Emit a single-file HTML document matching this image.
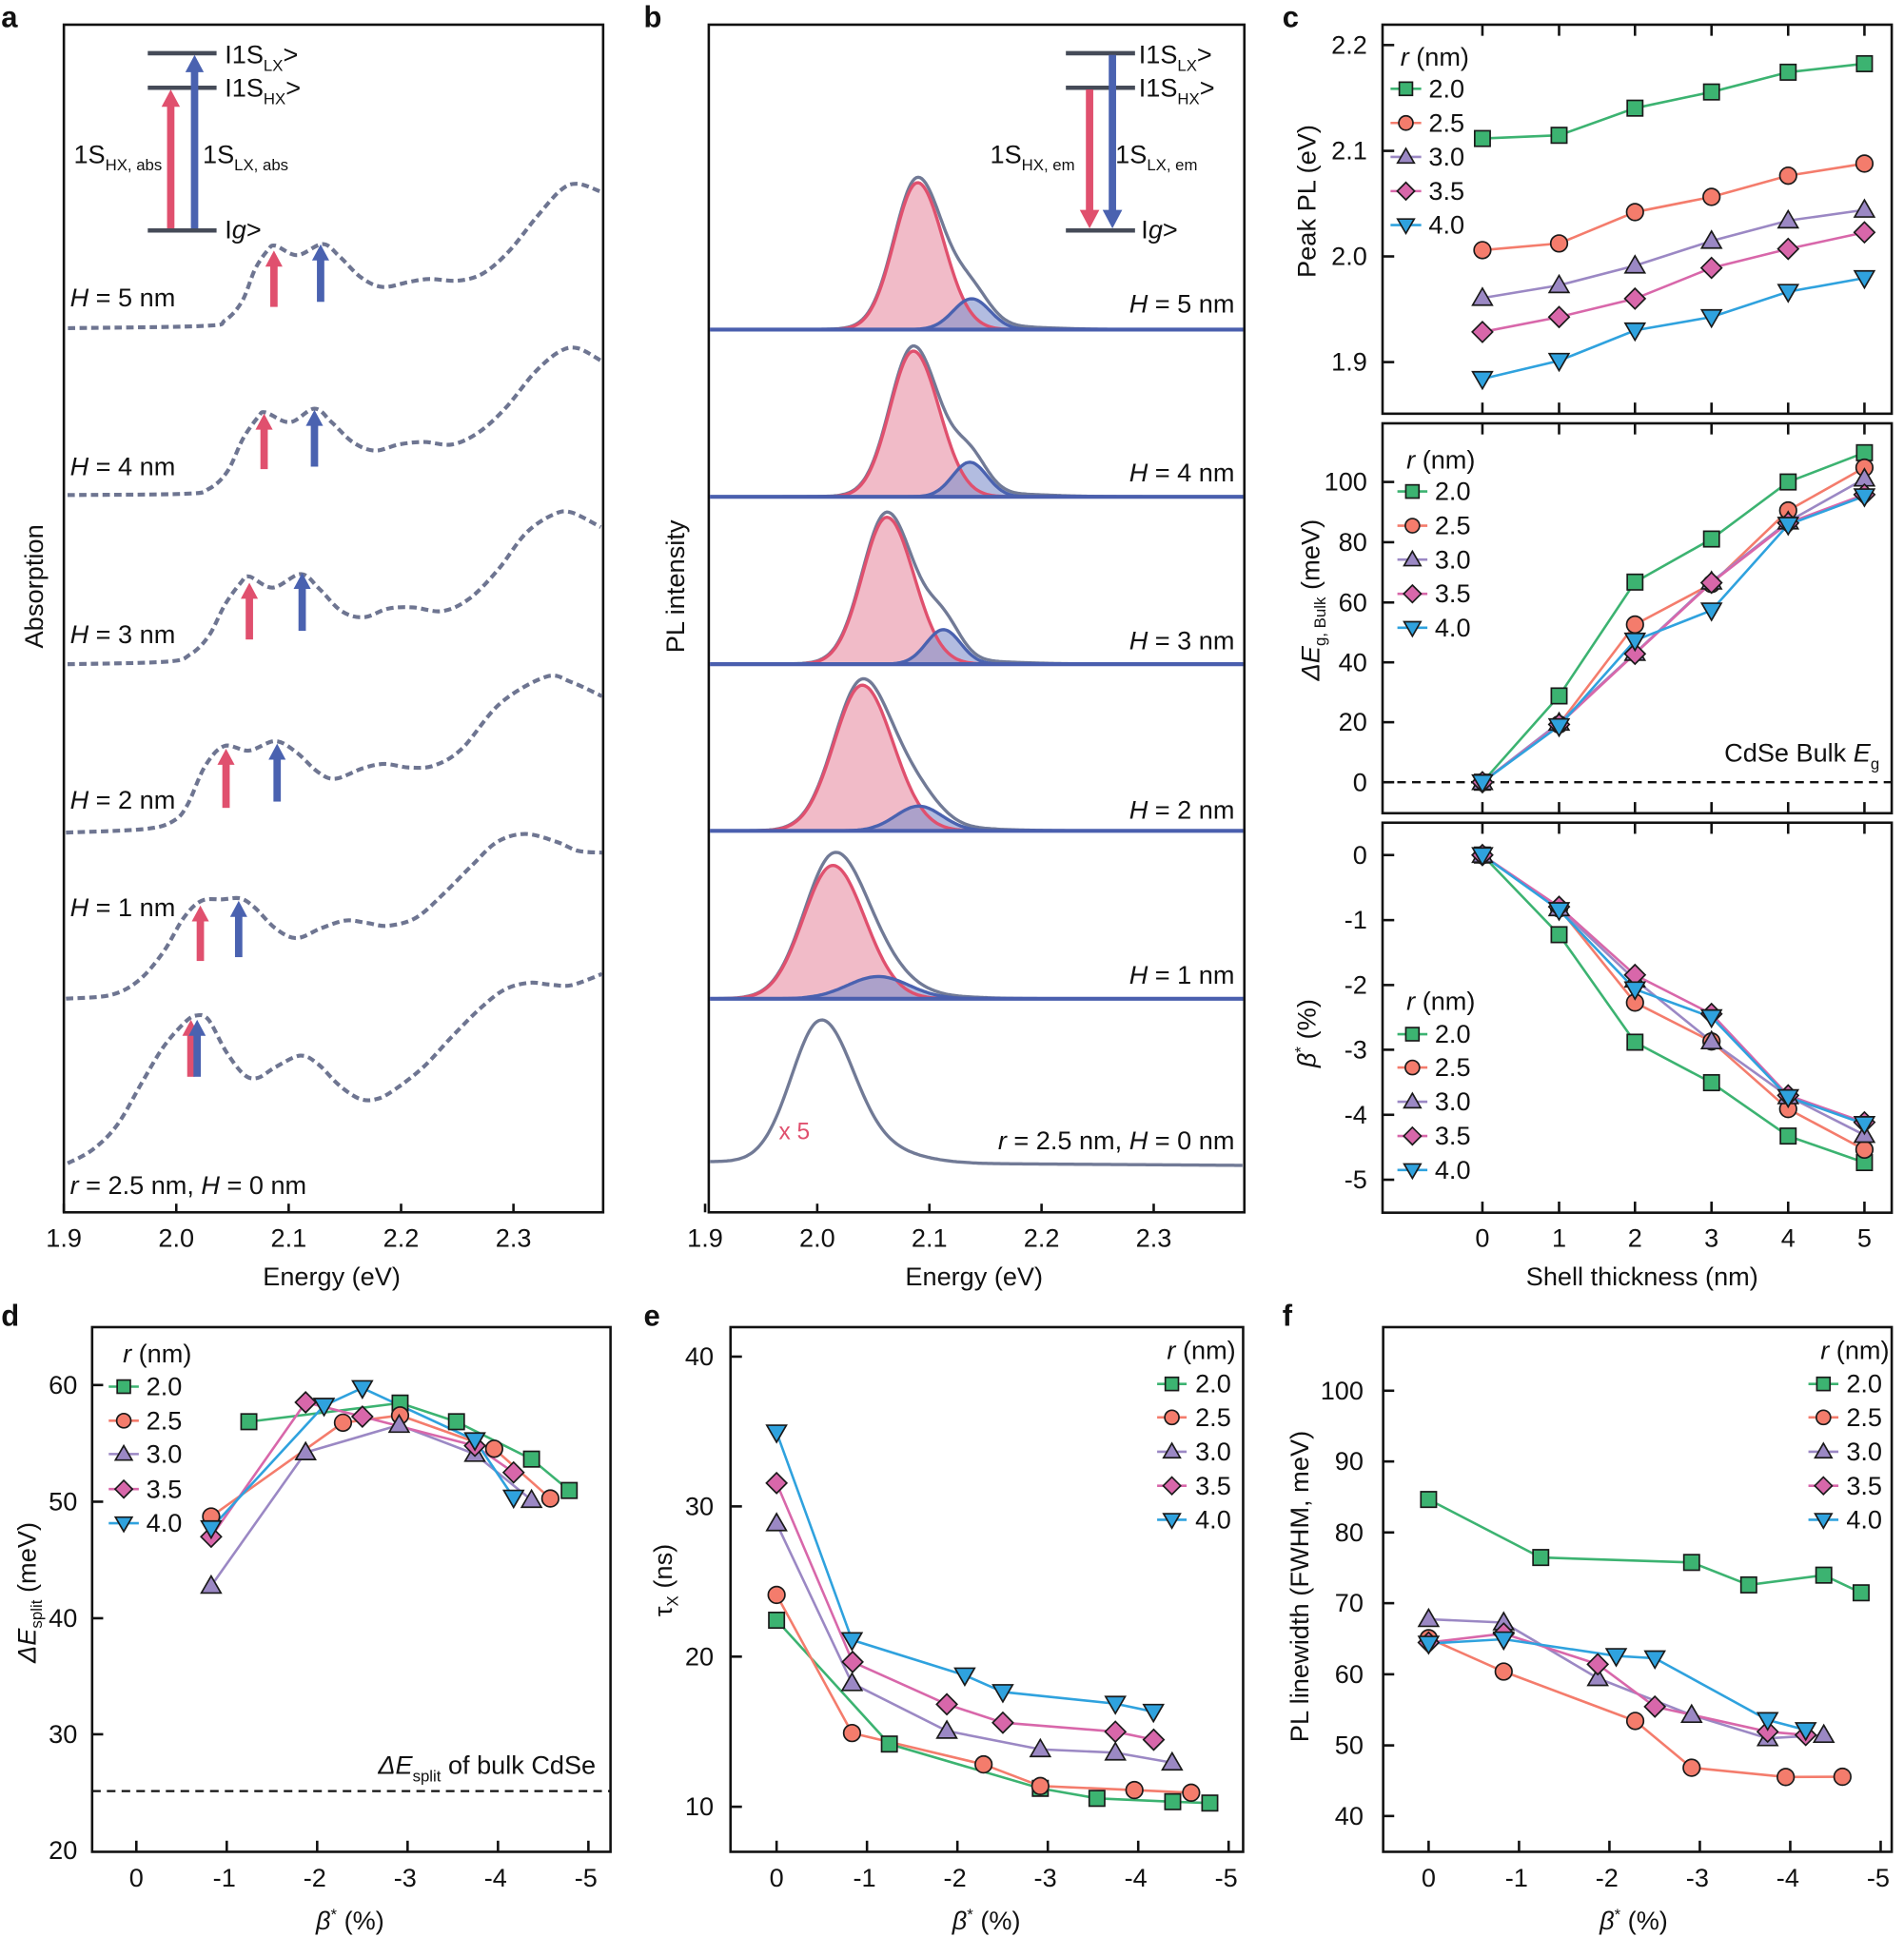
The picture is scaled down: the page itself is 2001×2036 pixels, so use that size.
<!DOCTYPE html>
<html><head><meta charset="utf-8"><style>
html,body{margin:0;padding:0;background:#fff;}
svg{display:block;}
text{font-family:"Liberation Sans",Arial,sans-serif;fill:#111;}
</style></head><body>
<svg id="s" xmlns="http://www.w3.org/2000/svg" viewBox="0 0 1550 1569" width="2001" height="2036" preserveAspectRatio="none">
<rect x="0" y="0" width="1550" height="1569" fill="#fff"/>
<g id="dyn"></g>
<g font-size="21">
<text x="1" y="22" font-size="24" font-weight="bold">a</text>
<text x="524" y="22" font-size="24" font-weight="bold">b</text>
<text x="1044" y="22" font-size="24" font-weight="bold">c</text>
<text x="1" y="1074" font-size="24" font-weight="bold">d</text>
<text x="524" y="1074" font-size="24" font-weight="bold">e</text>
<text x="1044" y="1074" font-size="24" font-weight="bold">f</text>

<g text-anchor="middle">
<text x="52" y="1010">1.9</text><text x="143.5" y="1010">2.0</text><text x="235" y="1010">2.1</text><text x="326.5" y="1010">2.2</text><text x="418" y="1010">2.3</text>
<text x="270" y="1041">Energy (eV)</text>
<text transform="translate(35,475) rotate(-90)">Absorption</text>
<text x="574" y="1010">1.9</text><text x="665.3" y="1010">2.0</text><text x="756.6" y="1010">2.1</text><text x="847.9" y="1010">2.2</text><text x="939.2" y="1010">2.3</text>
<text x="793" y="1041">Energy (eV)</text>
<text transform="translate(557,475) rotate(-90)">PL intensity</text>
</g>
<text x="183" y="51.4">I1S<tspan font-size="13" dy="6">LX</tspan><tspan dy="-6">&gt;</tspan></text>
<text x="183" y="78.3">I1S<tspan font-size="13" dy="6">HX</tspan><tspan dy="-6">&gt;</tspan></text>
<text x="183" y="193">I<tspan font-style="italic">g</tspan>&gt;</text>
<text x="60" y="132">1S<tspan font-size="13" dy="6">HX, abs</tspan></text>
<text x="165" y="132">1S<tspan font-size="13" dy="6">LX, abs</tspan></text>
<text x="57" y="248"><tspan font-style="italic">H</tspan> = 5 nm</text>
<text x="57" y="385"><tspan font-style="italic">H</tspan> = 4 nm</text>
<text x="57" y="521"><tspan font-style="italic">H</tspan> = 3 nm</text>
<text x="57" y="655"><tspan font-style="italic">H</tspan> = 2 nm</text>
<text x="57" y="742"><tspan font-style="italic">H</tspan> = 1 nm</text>
<text x="57" y="967"><tspan font-style="italic">r</tspan> = 2.5 nm, <tspan font-style="italic">H</tspan> = 0 nm</text>

<text x="927" y="51.4">I1S<tspan font-size="13" dy="6">LX</tspan><tspan dy="-6">&gt;</tspan></text>
<text x="927" y="78.3">I1S<tspan font-size="13" dy="6">HX</tspan><tspan dy="-6">&gt;</tspan></text>
<text x="929" y="193">I<tspan font-style="italic">g</tspan>&gt;</text>
<text x="806" y="132">1S<tspan font-size="13" dy="6">HX, em</tspan></text>
<text x="908" y="132">1S<tspan font-size="13" dy="6">LX, em</tspan></text>
<g text-anchor="end">
<text x="1005" y="253"><tspan font-style="italic">H</tspan> = 5 nm</text>
<text x="1005" y="390"><tspan font-style="italic">H</tspan> = 4 nm</text>
<text x="1005" y="526"><tspan font-style="italic">H</tspan> = 3 nm</text>
<text x="1005" y="663"><tspan font-style="italic">H</tspan> = 2 nm</text>
<text x="1005" y="797"><tspan font-style="italic">H</tspan> = 1 nm</text>
<text x="1005" y="931"><tspan font-style="italic">r</tspan> = 2.5 nm, <tspan font-style="italic">H</tspan> = 0 nm</text>
</g>
<text x="634" y="923" font-size="19" style="fill:#e0506e">x 5</text>

<g text-anchor="end">
<text x="1113" y="43.5">2.2</text><text x="1113" y="129.2">2.1</text><text x="1113" y="214.7">2.0</text><text x="1113" y="300.3">1.9</text>
<text x="1113" y="397.4">100</text><text x="1113" y="446.2">80</text><text x="1113" y="495">60</text><text x="1113" y="543.5">40</text><text x="1113" y="592">20</text><text x="1113" y="640.6">0</text>
<text x="1113" y="699.6">0</text><text x="1113" y="752.3">-1</text><text x="1113" y="804.9">-2</text><text x="1113" y="857.3">-3</text><text x="1113" y="910">-4</text><text x="1113" y="962.6">-5</text>
<text x="1530" y="617">CdSe Bulk <tspan font-style="italic">E</tspan><tspan font-size="13" dy="6">g</tspan></text>
</g>
<g text-anchor="middle">
<text x="1206.8" y="1010">0</text><text x="1269.2" y="1010">1</text><text x="1331" y="1010">2</text><text x="1393.3" y="1010">3</text><text x="1455.7" y="1010">4</text><text x="1517.8" y="1010">5</text>
<text x="1336.8" y="1041">Shell thickness (nm)</text>
<text transform="translate(1071,163) rotate(-90)">Peak PL (eV)</text>
<text transform="translate(1074,486) rotate(-90)"><tspan font-style="italic">ΔE</tspan><tspan font-size="13" dy="5">g, Bulk</tspan><tspan dy="-5">   (meV)</tspan></text>
<text transform="translate(1071,837) rotate(-90)"><tspan font-style="italic">β</tspan><tspan font-size="13" dy="-8">*</tspan><tspan dy="8"> (%)</tspan></text>
</g>
<text x="1140" y="53"><tspan font-style="italic">r</tspan> (nm)</text>
<text x="1163" y="78.9">2.0</text><text x="1163" y="106.6">2.5</text><text x="1163" y="134.1">3.0</text><text x="1163" y="161.8">3.5</text><text x="1163" y="189.3">4.0</text>
<text x="1145" y="379.4"><tspan font-style="italic">r</tspan> (nm)</text>
<text x="1168" y="405.1">2.0</text><text x="1168" y="432.8">2.5</text><text x="1168" y="460.3">3.0</text><text x="1168" y="488">3.5</text><text x="1168" y="515.5">4.0</text>
<text x="1145" y="818"><tspan font-style="italic">r</tspan> (nm)</text>
<text x="1168" y="844.7">2.0</text><text x="1168" y="871.7">2.5</text><text x="1168" y="899.4">3.0</text><text x="1168" y="927.2">3.5</text><text x="1168" y="954.7">4.0</text>

<g text-anchor="end">
<text x="63" y="1128.9">60</text><text x="63" y="1223.4">50</text><text x="63" y="1317.8">40</text><text x="63" y="1411.8">30</text><text x="63" y="1506">20</text>
<text x="485" y="1437"><tspan font-style="italic">ΔE</tspan><tspan font-size="13" dy="6">split</tspan><tspan dy="-6"> of bulk CdSe</tspan></text>
</g>
<g text-anchor="middle">
<text x="111" y="1528">0</text><text x="182.6" y="1528">-1</text><text x="256.2" y="1528">-2</text><text x="329.8" y="1528">-3</text><text x="403.4" y="1528">-4</text><text x="477" y="1528">-5</text>
<text x="285" y="1563"><tspan font-style="italic">β</tspan><tspan font-size="13" dy="-8">*</tspan><tspan dy="8"> (%)</tspan></text>
<text transform="translate(29,1290) rotate(-90)"><tspan font-style="italic">ΔE</tspan><tspan font-size="13" dy="5">split</tspan><tspan dy="-5"> (meV)</tspan></text>
</g>
<text x="100" y="1103.7"><tspan font-style="italic">r</tspan> (nm)</text>
<text x="119" y="1130.2">2.0</text><text x="119" y="1157.8">2.5</text><text x="119" y="1184.8">3.0</text><text x="119" y="1213.2">3.5</text><text x="119" y="1240.8">4.0</text>

<g text-anchor="end">
<text x="581" y="1105.9">40</text><text x="581" y="1227.2">30</text><text x="581" y="1348.9">20</text><text x="581" y="1470.5">10</text>
<text x="1006" y="1101"><tspan font-style="italic">r</tspan> (nm)</text>
</g>
<g text-anchor="middle">
<text x="632.2" y="1528">0</text><text x="703.8" y="1528">-1</text><text x="777.4" y="1528">-2</text><text x="851" y="1528">-3</text><text x="924.6" y="1528">-4</text><text x="998.2" y="1528">-5</text>
<text x="803" y="1563"><tspan font-style="italic">β</tspan><tspan font-size="13" dy="-8">*</tspan><tspan dy="8"> (%)</tspan></text>
<text transform="translate(547,1280) rotate(-90)">τ<tspan font-size="13" dy="5">X</tspan><tspan dy="-5"> (ns)</tspan></text>
</g>
<text x="973" y="1128">2.0</text><text x="973" y="1155.1">2.5</text><text x="973" y="1182.9">3.0</text><text x="973" y="1210.5">3.5</text><text x="973" y="1238">4.0</text>

<g text-anchor="end">
<text x="1110" y="1133.5">100</text><text x="1110" y="1190.8">90</text><text x="1110" y="1248.3">80</text><text x="1110" y="1305.6">70</text><text x="1110" y="1363.2">60</text><text x="1110" y="1420.8">50</text><text x="1110" y="1478">40</text>
<text x="1538" y="1101"><tspan font-style="italic">r</tspan> (nm)</text>
</g>
<g text-anchor="middle">
<text x="1163" y="1528">0</text><text x="1234.6" y="1528">-1</text><text x="1308.2" y="1528">-2</text><text x="1381.8" y="1528">-3</text><text x="1455.4" y="1528">-4</text><text x="1529" y="1528">-5</text>
<text x="1330" y="1563"><tspan font-style="italic">β</tspan><tspan font-size="13" dy="-8">*</tspan><tspan dy="8"> (%)</tspan></text>
<text transform="translate(1065,1285) rotate(-90)">PL linewidth (FWHM, meV)</text>
</g>
<text x="1503" y="1128">2.0</text><text x="1503" y="1155.1">2.5</text><text x="1503" y="1182.9">3.0</text><text x="1503" y="1210.5">3.5</text><text x="1503" y="1238">4.0</text>
</g>
</svg>
<script>
(function(){
const NS="http://www.w3.org/2000/svg";
const G=document.getElementById("dyn");
function el(t,a,p){const e=document.createElementNS(NS,t);for(const k in a)e.setAttribute(k,a[k]);(p||G).appendChild(e);return e;}
function line(x1,y1,x2,y2,c,w,extra){const a={x1,y1,x2,y2,stroke:c,"stroke-width":w};if(extra)Object.assign(a,extra);return el("line",a);}
function sp(p){let d="M"+p[0][0]+","+p[0][1];for(let i=0;i<p.length-1;i++){const p0=p[i-1]||p[i],p1=p[i],p2=p[i+1],p3=p[i+2]||p2;
const c1=[p1[0]+(p2[0]-p0[0])/6,p1[1]+(p2[1]-p0[1])/6],c2=[p2[0]-(p3[0]-p1[0])/6,p2[1]-(p3[1]-p1[1])/6];
d+=" C"+c1[0].toFixed(1)+","+c1[1].toFixed(1)+" "+c2[0].toFixed(1)+","+c2[1].toFixed(1)+" "+p2[0]+","+p2[1];}return d;}
function poly(p){return "M"+p.map(q=>q[0].toFixed(1)+","+q[1].toFixed(1)).join(" L");}
const RED="#e0506e",BLUE="#4a62b0",GRAY="#6e7591",DARK="#454b58";
function arrowUp(x,yb,yt,c,w,hw,hl){el("rect",{x:x-w/2,y:yt+hl-1,width:w,height:yb-yt-hl+1,fill:c});el("path",{d:`M${x-hw/2},${yt+hl} L${x},${yt} L${x+hw/2},${yt+hl} Z`,fill:c});}
function arrowDown(x,yt,yb,c,w,hw,hl){el("rect",{x:x-w/2,y:yt,width:w,height:yb-yt-hl+1,fill:c});el("path",{d:`M${x-hw/2},${yb-hl} L${x},${yb} L${x+hw/2},${yb-hl} Z`,fill:c});}
function frame(x0,y0,x1,y1){el("rect",{x:x0,y:y0,width:x1-x0,height:y1-y0,fill:"none",stroke:"#111","stroke-width":2});}

frame(52,20,491,982);
[52,143.5,235,326.5,418].forEach(x=>line(x,982,x,975,"#111",2));
const curves=[
[[55.3,265.8],[166,264],[183.3,259.4],[197.1,244],[207.5,218.3],[217.8,202.9],[224.1,199],[242,206.7],[262.8,197.7],[276.6,208],[293.9,224.7],[311.2,232.4],[332,228.6],[349.2,226],[373.4,227.3],[394.2,220.9],[414.9,202.9],[435.7,177.2],[456.4,154.1],[470.3,148.9],[489.3,155.4]],
[[55,401],[150,400],[170,396],[185,382],[198,355],[210,338],[216,334],[236,342],[256,331],[270,342],[287,358],[305,365],[325,360],[345,358],[368,360],[390,350],[412,330],[435,302],[455,285],[470,282],[489,292]],
[[55,538],[135,536],[155,530],[170,515],[183,490],[196,472],[203,467],[222,476],[245,465],[260,477],[278,495],[296,500],[316,493],[336,492],[360,495],[382,485],[405,462],[428,432],[450,417],[465,415],[489,427]],
[[53.7,674.4],[118.1,671.5],[141.1,665],[152.5,652.1],[166.8,620.8],[182.6,604.3],[202.7,608],[224.1,600.3],[241.3,609.4],[258.5,625.1],[272.9,630.8],[295.8,622.2],[313,618.8],[333,621.7],[353.1,620.2],[376,606.5],[407.5,569.5],[444.8,548.1],[464.8,552.4],[490,563.9]],
[[53.7,808.9],[89.5,806.1],[112.4,794.6],[132.5,771.8],[149.7,743.3],[164,729.7],[181.2,728.5],[195.5,727.7],[207,734.8],[224.1,751.9],[241.3,759.9],[261.4,751.9],[281.5,745.6],[298.6,747.6],[315.8,749.9],[338.8,743.3],[361.7,723.4],[384.6,700.6],[404.7,682],[427.6,675.5],[453.4,682],[470.6,689.2],[490,690.6]],
[[55.1,942.3],[75.2,931.4],[95.2,911.5],[115.3,877.3],[132.5,848.8],[149.7,828.9],[159.7,822.6],[169.7,826],[184,851.7],[198.4,870.2],[209.8,873.1],[224.1,864.5],[244.2,855.1],[258.5,861.6],[275.7,878.7],[292.9,890.1],[307.2,890.1],[321.6,882.4],[344.5,864.5],[367.4,840.2],[390.3,817.4],[410.4,801.8],[430.4,796.1],[447.6,797.5],[464.8,798.1],[490,789]]];
curves.forEach(c=>el("path",{d:sp(c),fill:"none",stroke:GRAY,"stroke-width":3.2,"stroke-dasharray":"6 3.5"}));
const arrs=[[223,248.6,203,261,244.5,198],[215,380,335,256,378,332],[203,518,472,246,511,464],[184,654.4,606.5,225.6,649.3,602.3],[163.1,778.4,733.4,194.3,775.3,729.7],[155.4,872.2,826,160.5,872.2,826]];
arrs.forEach(a=>{arrowUp(a[0],a[1],a[2],RED,6,14,13);arrowUp(a[3],a[4],a[5],BLUE,6,14,13);});
line(120.3,43.1,176.3,43.1,DARK,3.5);line(120.3,71.1,176.3,71.1,DARK,3.5);line(120.3,186.7,176.3,186.7,DARK,3.5);
arrowUp(139,185,72.5,RED,6,15,14);arrowUp(158.4,185,44.5,BLUE,6,15,14);

frame(577,20,1013,982);
[574,665.3,756.6,847.9,939.2].forEach(x=>line(x,982,x,975,"#111",2));
line(867.7,43.1,924,43.1,DARK,3.5);line(867.7,71.1,924,71.1,DARK,3.5);line(867.7,186.7,924,186.7,DARK,3.5);
arrowDown(887,72.5,185,RED,6,16,15);arrowDown(905.6,44.5,185,BLUE,6,16,15);
function gs(x,c,h,s){return h*Math.exp(-((x-c)*(x-c))/(2*s*s));}
function ga(x,c,h,sl,sr){const s=x<c?sl:sr;return h*Math.exp(-((x-c)*(x-c))/(2*s*s));}
const specs=[[267,747,119,19,21,791,25,15],[402.4,743.5,118,19,21,789.5,28,14],[538,722,119,20,22,768,28,14],[673,702,118,23,25,748,20,19],[809,678,108,24,26,715,18,25]];
specs.forEach(s=>{
 const [b,rc,rh,rsl,rsr,bc,bh,bs]=s;const R=[],B=[],E=[];
 for(let x=578;x<=1012;x+=1.5){const r=ga(x,rc,rh,rsl,rsr),bb=gs(x,bc,bh,bs),t=gs(x,rc+40,3.5,50);
  R.push([x,b-r]);B.push([x,b-bb]);E.push([x,b-(r+bb+t)-1.5*Math.exp(-Math.pow((x-rc)/30,2))]);}
 el("path",{d:poly(R)+" Z",fill:"#f0b4c2","fill-opacity":0.9,stroke:"none"});
 el("path",{d:poly(B)+" Z",fill:"#7f8fcc","fill-opacity":0.6,stroke:"none"});
 el("path",{d:poly(E),fill:"none",stroke:"#717a96","stroke-width":2.6});
 el("path",{d:poly(R),fill:"none",stroke:RED,"stroke-width":2.6});
 el("path",{d:poly(B),fill:"none",stroke:BLUE,"stroke-width":2.6});
 line(578,b,1012,b,"#4a5fae",3.2);
});
(function(){const P=[];for(let x=578;x<=1012;x+=1.5){const s=x<668?24:26;const y=944-3*(1-(x-578)/434)-112*Math.exp(-((x-668)*(x-668))/(2*s*s))-10*Math.exp(-Math.pow((x-715)/45,2));P.push([x,y]);}
el("path",{d:poly(P),fill:"none",stroke:"#717a96","stroke-width":2.6});})();

const COLS=["#3cb371","#f47c6c","#9b88c4","#d867aa","#2fa2de"];
const LCOLS=COLS;
function marker(t,x,y,c,sc){sc=sc||1;const a={fill:c,stroke:"#1a1a1a","stroke-width":1.3};let s=6.3*sc;
 if(t==0)el("rect",Object.assign({x:x-s,y:y-s,width:2*s,height:2*s},a));
 else if(t==1)el("circle",Object.assign({cx:x,cy:y,r:6.8*sc},a));
 else if(t==2){s=8*sc;el("path",Object.assign({d:`M${x},${y-s} L${x+s},${y+s*0.72} L${x-s},${y+s*0.72} Z`},a));}
 else if(t==3){s=8.3*sc;el("path",Object.assign({d:`M${x},${y-s} L${x+s},${y} L${x},${y+s} L${x-s},${y} Z`},a));}
 else {s=8*sc;el("path",Object.assign({d:`M${x-s},${y-s*0.72} L${x+s},${y-s*0.72} L${x},${y+s} Z`},a));}}
function series(data){data.forEach((d,i)=>{el("path",{d:poly(d),fill:"none",stroke:LCOLS[i],"stroke-width":2});});
 data.forEach((d,i)=>d.forEach(p=>marker(i,p[0],p[1],COLS[i])));}
function legend(x0,x1,ys){ys.forEach((y,i)=>{line(x0,y,x1,y,LCOLS[i],2);marker(i,(x0+x1)/2,y,COLS[i],0.85);});}

const cx=[1206.8,1269.2,1331,1393.3,1455.7,1517.8];
const cf=[[1125.5,20,1540,335.1],[1125.5,342.9,1540,658.7],[1125.5,666.4,1540,982.3]];
cf.forEach(f=>{frame(f[0],f[1],f[2],f[3]);cx.forEach(x=>{line(x,f[1],x,f[1]+9,"#111",2);line(x,f[3],x,f[3]-9,"#111",2);});});
[36.5,122.2,207.7,293.3].forEach(y=>line(1125.5,y,1135,y,"#111",2));
[390.4,439.2,488,536.5,585,633.6].forEach(y=>line(1125.5,y,1135,y,"#111",2));
[692.6,745.3,797.9,850.3,903,955.6].forEach(y=>line(1125.5,y,1135,y,"#111",2));
line(1125.5,633.6,1540,633.6,"#111",1.8,{"stroke-dasharray":"7 5"});
const mk=ys=>ys.map((y,i)=>[cx[i],y]);
series([mk([112.2,109.6,87.6,74.5,58.5,51.6]),mk([202.6,197.2,171.8,159.5,142.3,132.5]),mk([241.4,231.1,215.2,195.2,178.7,170]),mk([268.9,256.8,241.9,217,201.6,188.2]),mk([306.9,292.2,267.6,256.8,236.3,225.2])]);
series([mk([633.6,563.7,471.5,436.6,390.4,366.7]),mk([633.6,586.8,505.9,473,413.5,378.8]),mk([633.6,585.5,529,471.2,422.5,387.8]),mk([633.6,586.8,529.6,472,423.7,400.6]),mk([633.6,588.1,518.8,494.4,425,401.9])]);
series([mk([692.6,757.1,844.2,877,920.2,941.7]),mk([692.6,735.8,812.1,843.6,898.3,931.2]),mk([692.6,735.8,793.6,843.6,888.1,919.4]),mk([692.6,734.5,789.7,821.3,887.3,909.1]),mk([692.6,737.1,801.3,823.9,888.6,910.4])]);
legend(1132,1157,[71.9,99.6,127.1,154.8,182.3]);
legend(1137.6,1162,[398.1,425.8,453.3,481,508.5]);
legend(1137.6,1162,[837.7,864.7,892.4,920.2,947.7]);

frame(75,1075,497,1500);
[1121.9,1216.4,1310.8,1404.8].forEach(y=>line(75,y,84,y,"#111",2));
[111,184.6,258.2,331.8,405.4,479].forEach(x=>line(x,1500,x,1491,"#111",2));
line(75,1450.8,497,1450.8,"#111",1.8,{"stroke-dasharray":"7 5"});
series([
[[202.6,1151.6],[325.7,1136.5],[371.6,1151.6],[432.7,1181.9],[463.4,1207.3]],
[[171.9,1228.4],[279.2,1152.4],[325.7,1146.5],[402.3,1173.5],[448,1213.8]],
[[171.9,1284.6],[248.8,1176.5],[324.9,1154.3],[386.6,1177.8],[432.7,1215.1]],
[[171.9,1244.8],[248.8,1135.9],[295,1147.5],[386.6,1171.1],[418.1,1192.7]],
[[171.9,1237.8],[263.8,1138.6],[295,1124.3],[386.6,1166.5],[418.1,1213]]]);
legend(88.5,113,[1123.2,1150.8,1177.8,1206.2,1233.8]);

frame(594.7,1075,1012,1500);
[1098.9,1220.2,1341.9,1463.5].forEach(y=>line(594.7,y,604,y,"#111",2));
[632.2,705.8,779.4,853,926.6,1000.2].forEach(x=>line(x,1500,x,1491,"#111",2));
series([
[[632.2,1312.4],[724,1412.7],[846.9,1448.6],[893,1456.7],[954.7,1459.4],[984.9,1460.5]],
[[632.2,1291.9],[693.6,1403.8],[800.7,1429.2],[846.9,1446.7],[923.5,1450],[969.7,1452.1]],
[[632.2,1234],[693.6,1363.5],[770.8,1402.1],[846.9,1417],[908,1419.7],[954.2,1427.8]],
[[632.2,1201.3],[694.1,1346.2],[770.8,1380.5],[816.4,1395.4],[908,1402.7],[939.2,1409.2]],
[[632.2,1160.2],[693.6,1328.4],[785.4,1357],[816.4,1370.5],[908,1380],[939,1386.5]]]);
legend(942,966,[1121,1148.1,1175.9,1203.5,1231]);

frame(1126,1075,1540,1500);
[1126.5,1183.8,1241.3,1298.6,1356.2,1413.8,1471].forEach(y=>line(1126,y,1135,y,"#111",2));
[1163,1236.6,1310.2,1383.8,1457.4,1531].forEach(x=>line(x,1500,x,1491,"#111",2));
series([
[[1163,1214.6],[1254.3,1261.6],[1377.1,1265.6],[1423.6,1283.8],[1484.7,1275.9],[1515.1,1290.2]],
[[1163,1327],[1224.1,1354],[1331.2,1394],[1377.1,1431.9],[1453.7,1439.4],[1499.9,1439.2]],
[[1163,1311.6],[1224.1,1314.3],[1300.7,1359.4],[1377.1,1389.2],[1439,1408.1],[1484.7,1405.4]],
[[1163,1330.5],[1224.1,1323.2],[1300.7,1348.1],[1347.2,1382.4],[1439,1402.7],[1470,1405.4]],
[[1163,1331.3],[1224.1,1327.8],[1315.7,1341.3],[1347.2,1343.2],[1439,1393.2],[1470,1401.3]]]);
legend(1472.2,1496.6,[1121,1148.1,1175.9,1203.5,1231]);
})();
</script>
</body></html>
